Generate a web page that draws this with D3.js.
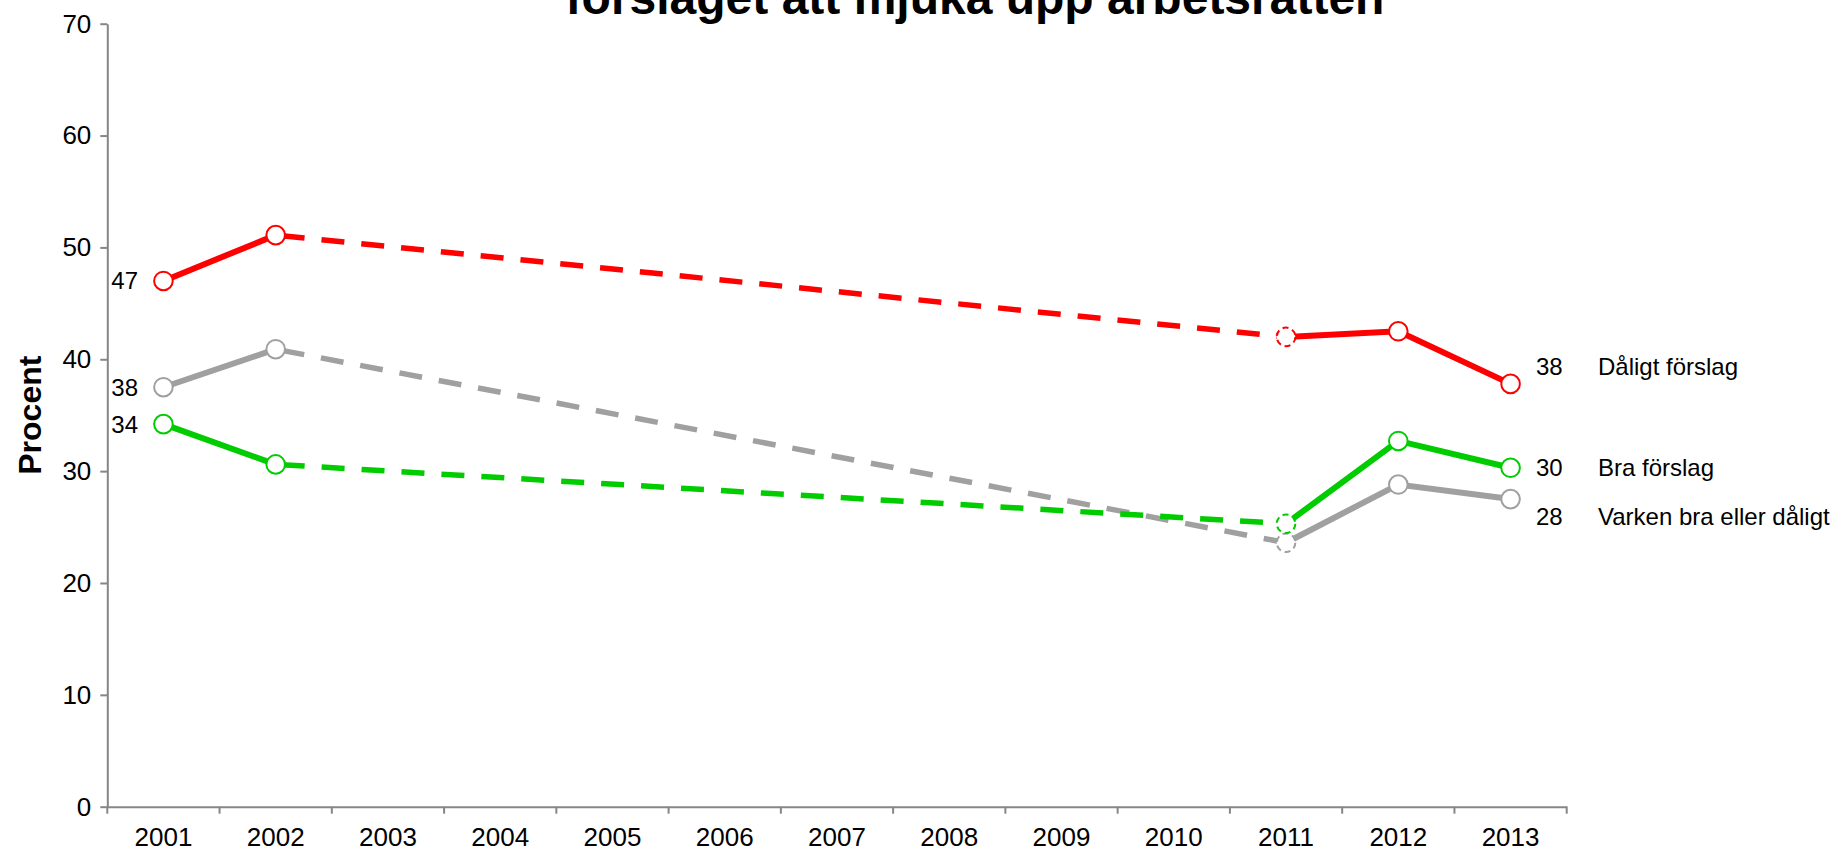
<!DOCTYPE html>
<html>
<head>
<meta charset="utf-8">
<script src="https://cdn.jsdelivr.net/npm/d3@7/dist/d3.min.js"></script>
<style>
  html, body { margin: 0; padding: 0; background: #ffffff; }
  svg { display: block; font-family: "Liberation Sans", Arial, sans-serif; }
</style>
</head>
<body>
<svg id="chart" width="1834" height="851"></svg>
<script>
// ---- data ----
const years = ["2001","2002","2003","2004","2005","2006","2007","2008","2009","2010","2011","2012","2013"];
const surveyYears = ["2001","2002","2011","2012","2013"];
const daligt = [47.0, 51.1, 42.0, 42.5, 37.8];
const bra = [34.2, 30.6, 25.3, 32.7, 30.3];
const varken = [37.5, 40.9, 23.6, 28.8, 27.5];
const yTicks = [0, 10, 20, 30, 40, 50, 60, 70];
const seriesNames = ["Dåligt förslag", "Bra förslag", "Varken bra eller dåligt"];
const firstLabels = ["47", "34", "38"];
const lastLabels = ["38", "30", "28"];
const titleText = "förslaget att mjuka upp arbetsrätten";
const yTitle = "Procent";

(function () {
const series = [
  { name: seriesNames[2], values: varken, color: "#a0a0a0", first: firstLabels[2], last: lastLabels[2], lastDy: 18 },
  { name: seriesNames[1], values: bra, color: "#00cc00", first: firstLabels[1], last: lastLabels[1], lastDy: 0 },
  { name: seriesNames[0], values: daligt, color: "#ff0000", first: firstLabels[0], last: lastLabels[0], lastDy: -17 }
];

// ---- layout ----
const svg = d3.select("#chart");
const mLeft = 107.3, mRight = 1566.7, mTop = 23.7, mBottom = 806.7;

const x = d3.scaleBand().domain(years).range([mLeft, mRight]).padding(0);
const y = d3.scaleLinear().domain([0, 70]).range([mBottom, mTop]);
const cx = yr => x(yr) + x.bandwidth() / 2;

const axisColor = "#868686";

// Y axis
const yAxis = svg.append("g")
  .attr("transform", `translate(${mLeft},0)`)
  .call(d3.axisLeft(y).tickValues(yTicks).tickSize(7).tickSizeOuter(0).tickPadding(9));
yAxis.select(".domain").attr("stroke", axisColor).attr("stroke-width", 2);
yAxis.selectAll(".tick line").attr("stroke", axisColor).attr("stroke-width", 2);
yAxis.selectAll(".tick text").attr("font-size", 26).attr("fill", "#000")
  .attr("font-family", "Liberation Sans, Arial, sans-serif");

// X axis
const xAxis = svg.append("g")
  .attr("transform", `translate(0,${mBottom})`)
  .call(d3.axisBottom(x).tickSize(0).tickSizeOuter(0).tickPadding(21));
xAxis.select(".domain").attr("stroke", axisColor).attr("stroke-width", 2);
xAxis.selectAll(".tick text").attr("font-size", 26).attr("fill", "#000")
  .attr("font-family", "Liberation Sans, Arial, sans-serif");
const edges = years.map(d => x(d)).concat([mRight]);
xAxis.selectAll(".edge").data(edges).enter().append("line")
  .attr("class", "edge")
  .attr("x1", d => d).attr("x2", d => d).attr("y1", 0).attr("y2", 7)
  .attr("stroke", axisColor).attr("stroke-width", 2);

// Y title
svg.append("text")
  .attr("transform", `translate(41,${(mTop + mBottom) / 2}) rotate(-90)`)
  .attr("text-anchor", "middle")
  .attr("font-size", 32).attr("font-weight", "bold").attr("fill", "#000")
  .text(yTitle);

// Title (only lower part visible, as in the reference)
svg.append("text")
  .attr("x", 975).attr("y", 14)
  .attr("text-anchor", "middle")
  .attr("font-size", 48).attr("font-weight", "bold").attr("fill", "#000")
  .text(titleText);

// ---- lines ----
const line = d3.line().x(d => cx(d.yr)).y(d => y(d.v));
const r = 9.3;

series.forEach(s => {
  const pts = surveyYears.map((yr, i) => ({ yr, v: s.values[i] }));
  const g = svg.append("g");
  g.append("path").attr("d", line([pts[1], pts[2]]))
    .attr("fill", "none").attr("stroke", s.color).attr("stroke-width", 5.5)
    .attr("stroke-dasharray", "23,17").attr("stroke-dashoffset", "-6");
  g.append("path").attr("d", line([pts[0], pts[1]]))
    .attr("fill", "none").attr("stroke", s.color).attr("stroke-width", 6);
  g.append("path").attr("d", line(pts.slice(2)))
    .attr("fill", "none").attr("stroke", s.color).attr("stroke-width", 6);
  g.selectAll("circle").data(pts).enter().append("circle")
    .attr("cx", d => cx(d.yr)).attr("cy", d => y(d.v)).attr("r", r)
    .attr("fill", "#fff").attr("stroke", s.color).attr("stroke-width", 2)
    .attr("stroke-dasharray", (d, i) => i === 2 ? "6,4" : null);
  svg.append("text")
    .attr("x", 138).attr("y", y(pts[0].v))
    .attr("dy", "0.35em").attr("text-anchor", "end")
    .attr("font-size", 24).attr("fill", "#000").text(s.first);
  const ly = y(pts[4].v) + s.lastDy;
  svg.append("text")
    .attr("x", 1536).attr("y", ly).attr("dy", "0.35em")
    .attr("font-size", 24).attr("fill", "#000").text(s.last);
  svg.append("text")
    .attr("x", 1598).attr("y", ly).attr("dy", "0.35em")
    .attr("font-size", 24).attr("fill", "#000").text(s.name);
});
})();
</script>
</body>
</html>
